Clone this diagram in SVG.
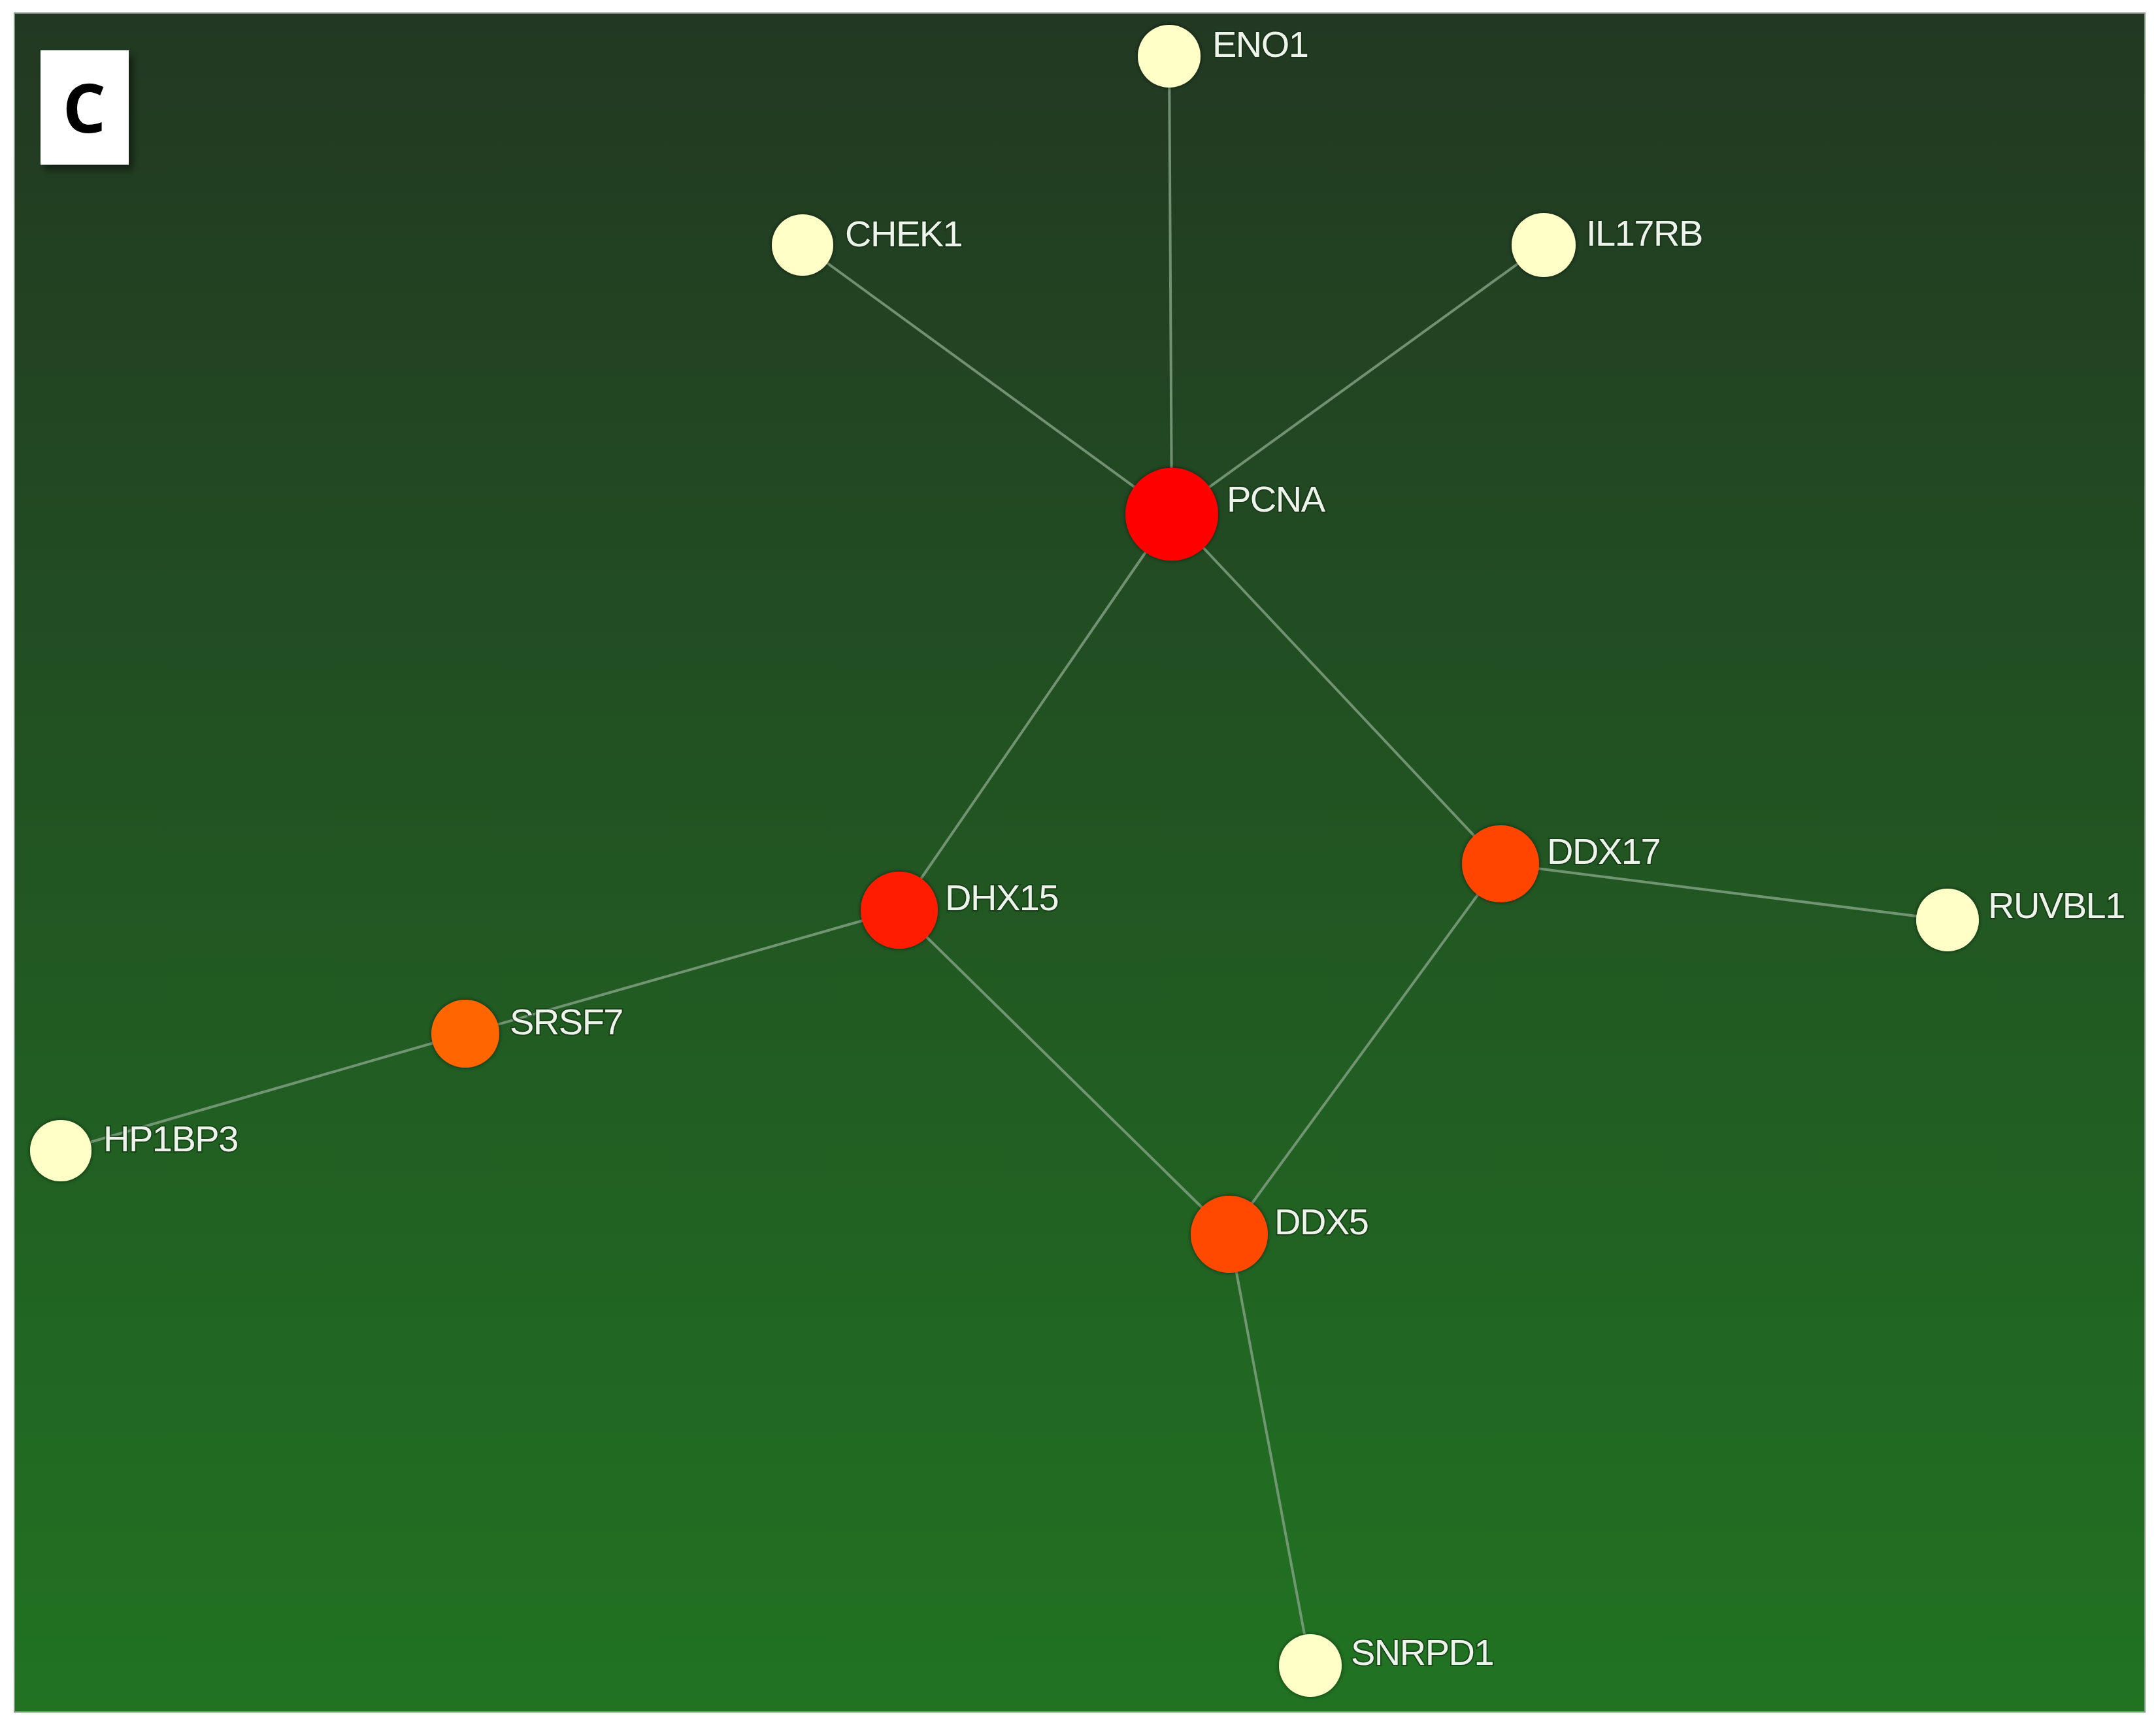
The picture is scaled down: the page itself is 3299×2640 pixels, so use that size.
<svg xmlns="http://www.w3.org/2000/svg" width="3299" height="2640" viewBox="0 0 3299 2640">
<style>
.edge{stroke:#7f9f80;stroke-width:4;stroke-opacity:0.85;fill:none}
.lbl{font-family:"Liberation Sans",Arial,sans-serif;font-size:56px;letter-spacing:-1.5px;fill:#eef3ec;stroke:#123012;stroke-width:4;stroke-opacity:0.6;paint-order:stroke}
.leaf{fill:#ffffc8}
</style>
<defs>
<linearGradient id="bg" x1="0" y1="0" x2="0" y2="1">
<stop offset="0" stop-color="#223822"/>
<stop offset="1" stop-color="#217322"/>
</linearGradient>
<filter id="halo" x="-30%" y="-30%" width="160%" height="160%">
<feGaussianBlur in="SourceAlpha" stdDeviation="3"/>
<feComponentTransfer><feFuncA type="linear" slope="0.6"/></feComponentTransfer>
<feMerge><feMergeNode/><feMergeNode in="SourceGraphic"/></feMerge>
</filter>
<filter id="shadow" x="-20%" y="-20%" width="150%" height="150%">
<feGaussianBlur in="SourceAlpha" stdDeviation="6"/>
<feOffset dx="6" dy="8"/>
<feComponentTransfer><feFuncA type="linear" slope="0.5"/></feComponentTransfer>
<feMerge><feMergeNode/><feMergeNode in="SourceGraphic"/></feMerge>
</filter>
</defs>
<rect x="0" y="0" width="3299" height="2640" fill="#ffffff"/>
<rect x="22" y="20" width="3260" height="2600" fill="url(#bg)" stroke="#8a9a8a" stroke-width="2"/>
<g id="panel-label" filter="url(#shadow)">
<rect x="62" y="77" width="135" height="175" fill="#ffffff"/>
<text x="129" y="203" text-anchor="middle" font-family="'Open Sans','Liberation Sans',sans-serif" font-weight="700" font-size="104" fill="#000000">C</text>
</g>
<g id="connectors">
<line class="edge" x1="1793" y1="787" x2="1789" y2="86"/>
<line class="edge" x1="1793" y1="787" x2="1228" y2="375"/>
<line class="edge" x1="1793" y1="787" x2="2362" y2="375"/>
<line class="edge" x1="1793" y1="787" x2="1376" y2="1393"/>
<line class="edge" x1="1793" y1="787" x2="2296" y2="1322"/>
<line class="edge" x1="1376" y1="1393" x2="712" y2="1582"/>
<line class="edge" x1="1376" y1="1393" x2="1881" y2="1889"/>
<line class="edge" x1="2296" y1="1322" x2="1881" y2="1889"/>
<line class="edge" x1="2296" y1="1322" x2="2980" y2="1408"/>
<line class="edge" x1="712" y1="1582" x2="93" y2="1761"/>
<line class="edge" x1="1881" y1="1889" x2="2005" y2="2549"/>
</g>
<g id="node-ENO1"><circle class="leaf" cx="1789" cy="86" r="48" filter="url(#halo)"/><text class="lbl" x="1855" y="87">ENO1</text></g>
<g id="node-CHEK1"><circle class="leaf" cx="1228" cy="375" r="47" filter="url(#halo)"/><text class="lbl" x="1293" y="377">CHEK1</text></g>
<g id="node-IL17RB"><circle class="leaf" cx="2362" cy="375" r="49" filter="url(#halo)"/><text class="lbl" x="2427" y="376">IL17RB</text></g>
<g id="node-PCNA"><circle cx="1793" cy="787" r="71" fill="#ff0000" filter="url(#halo)"/><text class="lbl" x="1877" y="783">PCNA</text></g>
<g id="node-DHX15"><circle cx="1376" cy="1393" r="59" fill="#ff1e00" filter="url(#halo)"/><text class="lbl" x="1446" y="1393">DHX15</text></g>
<g id="node-DDX17"><circle cx="2296" cy="1322" r="59" fill="#ff4400" filter="url(#halo)"/><text class="lbl" x="2367" y="1322">DDX17</text></g>
<g id="node-RUVBL1"><circle class="leaf" cx="2980" cy="1408" r="48" filter="url(#halo)"/><text class="lbl" x="3042" y="1405">RUVBL1</text></g>
<g id="node-SRSF7"><circle cx="712" cy="1582" r="52" fill="#ff6600" filter="url(#halo)"/><text class="lbl" x="780" y="1583">SRSF7</text></g>
<g id="node-HP1BP3"><circle class="leaf" cx="93" cy="1761" r="47" filter="url(#halo)"/><text class="lbl" x="158" y="1762">HP1BP3</text></g>
<g id="node-DDX5"><circle cx="1881" cy="1889" r="59" fill="#ff4a00" filter="url(#halo)"/><text class="lbl" x="1950" y="1889">DDX5</text></g>
<g id="node-SNRPD1"><circle class="leaf" cx="2005" cy="2549" r="48" filter="url(#halo)"/><text class="lbl" x="2067" y="2548">SNRPD1</text></g>
</svg>
